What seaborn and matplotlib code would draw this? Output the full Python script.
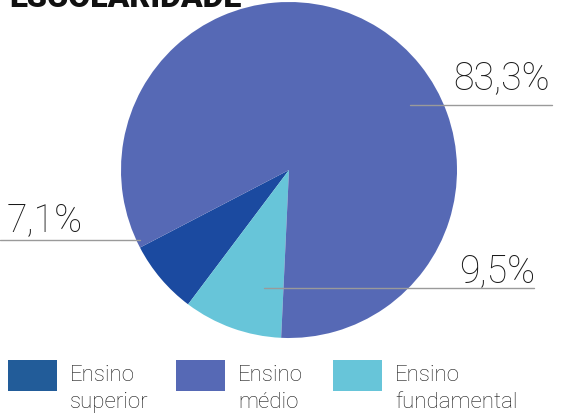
import matplotlib
matplotlib.use("Agg")
import matplotlib.pyplot as plt
import seaborn as sns
from matplotlib.patches import Rectangle

categories = ["Ensino superior", "Ensino fundamental", "Ensino médio"]
values = [7.1, 9.5, 83.3]
value_labels = ["7,1%", "9,5%", "83,3%"]
slice_colors = ["#1b4aa0", "#67c5d9", "#5669b5"]
legend_names = [("Ensino", "superior"), ("Ensino", "médio"), ("Ensino", "fundamental")]
legend_colors = ["#225c99", "#5669b5", "#67c5d9"]
title = "ESCOLARIDADE"

sns.set_theme(style="white")
plt.rcParams['font.family'] = ['Roboto', 'DejaVu Sans']

W, H = 570, 415
fig = plt.figure(figsize=(W / 100, H / 100), dpi=100)

# pie axes: center (289,170) radius 168 in pixels from top-left
cx, cy, r = 289, 170, 168
ax = fig.add_axes([(cx - r) / W, (H - cy - r) / H, 2 * r / W, 2 * r / H])
ax.pie(values, colors=slice_colors, startangle=207.5, counterclock=True,
       radius=1, wedgeprops=dict(linewidth=0))
ax.set_xlim(-1, 1)
ax.set_ylim(-1, 1)
ax.axis("off")

# overlay in pixel coordinates
ov = fig.add_axes([0, 0, 1, 1], zorder=5)
ov.set_xlim(0, W)
ov.set_ylim(H, 0)
ov.axis("off")
ov.patch.set_alpha(0)

lab_fs = 27
txt_col = "#1a1a1a"
line_col = "#9a9a9a"
# 83,3%
ov.plot([410, 552], [105, 105], color=line_col, lw=1)
ov.text(550, 89, value_labels[2], ha="right", va="baseline", fontsize=lab_fs,
        fontweight="light", color=txt_col)
# 7,1%
ov.plot([0, 140], [240, 240], color=line_col, lw=1)
ov.text(7, 231, value_labels[0], ha="left", va="baseline", fontsize=lab_fs,
        fontweight="light", color=txt_col)
# 9,5%
ov.plot([264, 534], [288, 288], color=line_col, lw=1)
ov.text(535, 282, value_labels[1], ha="right", va="baseline", fontsize=lab_fs,
        fontweight="light", color=txt_col)

# title, cut off at top
ov.text(9, 7, title, ha="left", va="baseline", fontsize=23, fontweight="black",
        color="#111111")

# legend
sq_x = [8, 176, 333]
for (l1, l2), col, x in zip(legend_names, legend_colors, sq_x):
    ov.add_patch(Rectangle((x, 360), 49, 31, facecolor=col, edgecolor="none"))
    ov.text(x + 62, 381, l1, ha="left", va="baseline", fontsize=16,
            fontweight="light", color=txt_col)
    ov.text(x + 62, 408, l2, ha="left", va="baseline", fontsize=16,
            fontweight="light", color=txt_col)

fig.savefig("out.png", dpi=100)
